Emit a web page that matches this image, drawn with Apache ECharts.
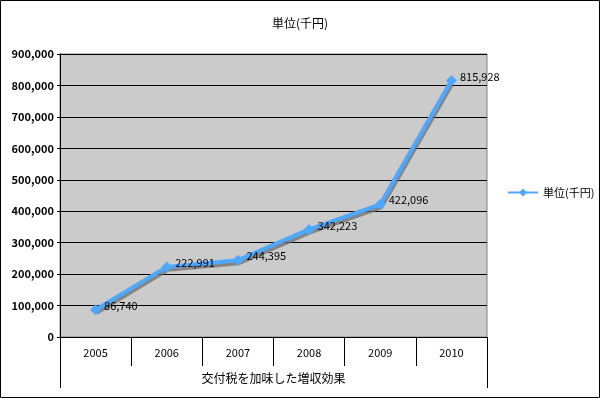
<!DOCTYPE html>
<html>
<head>
<meta charset="utf-8">
<script src="https://cdn.jsdelivr.net/npm/echarts@6/dist/echarts.min.js"></script>
<style>
  html, body { margin: 0; padding: 0; background: #fff; }
  #chart-container { width: 600px; height: 398px; }
</style>
</head>
<body>
<div id="chart-container"></div>
<script>
var dom = document.getElementById("chart-container");
var myChart = echarts.init(dom, null, { renderer: "canvas" });

// data
const years = ["2005", "2006", "2007", "2008", "2009", "2010"];
const values = [86740, 222991, 244395, 342223, 422096, 815928];
const seriesName = "単位(千円)";
const groupLabel = ["交付税を加味した増収効果"];

const font = "'Noto Sans CJK JP', 'DejaVu Sans', sans-serif";

var option = {
  animation: false,
  textStyle: { fontFamily: font },
  title: {
    text: "単位(千円)",
    left: "center",
    top: 12,
    textStyle: { fontSize: 12, fontWeight: "normal", color: "#000", fontFamily: font },
  },
  legend: {
    left: 502,
    top: 182,
    orient: "vertical",
    itemWidth: 30,
    itemHeight: 10,
    itemGap: 6,
    textStyle: { fontSize: 11, color: "#000", fontFamily: font },
    data: [seriesName],
  },
  grid: {
    left: 60,
    right: 113,
    top: 54,
    bottom: 61,
    show: true,
    backgroundColor: "#cbcbcb",
    borderColor: "#808080",
    borderWidth: 1,
  },
  xAxis: [
    {
      type: "category",
      data: years,
      boundaryGap: true,
      axisLine: { lineStyle: { color: "#000", width: 1 } },
      axisTick: { show: true, length: 29, lineStyle: { color: "#000" } },
      axisLabel: { color: "#000", fontSize: 11, margin: 10, fontFamily: font },
    },
    {
      type: "category",
      data: groupLabel,
      position: "bottom",
      offset: 29,
      boundaryGap: true,
      axisLine: { show: false },
      axisTick: { show: true, length: 22, lineStyle: { color: "#000" } },
      axisLabel: { color: "#000", fontSize: 12, margin: 6, fontFamily: font },
    },
  ],
  yAxis: {
    type: "value",
    min: 0,
    max: 900000,
    interval: 100000,
    axisLine: { show: true, lineStyle: { color: "#000" } },
    axisTick: { show: true, length: 3, lineStyle: { color: "#000" } },
    splitLine: { lineStyle: { color: "#000", width: 1 } },
    axisLabel: {
      color: "#000",
      fontSize: 11,
      fontWeight: "bold",
      margin: 6,
      fontFamily: font,
      formatter: function (v) {
        return v.toLocaleString("en-US");
      },
    },
  },
  series: [
    {
      name: seriesName,
      type: "line",
      xAxisIndex: 0,
      data: values,
      symbol: "diamond",
      symbolSize: 11,
      itemStyle: { color: "#4fa8ff" },
      lineStyle: {
        color: "#4fa8ff",
        width: 4,
        shadowColor: "rgba(110,110,110,0.75)",
        shadowOffsetX: 1,
        shadowOffsetY: 3,
        shadowBlur: 0,
      },
      label: {
        show: true,
        position: "right",
        offset: [-2, -4],
        color: "#000",
        fontSize: 11,
        fontFamily: font,
        formatter: function (p) {
          return p.value.toLocaleString("en-US");
        },
      },
    },
  ],
  graphic: [
    {
      type: "rect",
      shape: { x: 0.5, y: 0.5, width: 599, height: 397 },
      style: { fill: "none", stroke: "#000", lineWidth: 1 },
      silent: true,
    },
  ],
};

myChart.setOption(option);
window.addEventListener("resize", myChart.resize);
</script>
</body>
</html>
